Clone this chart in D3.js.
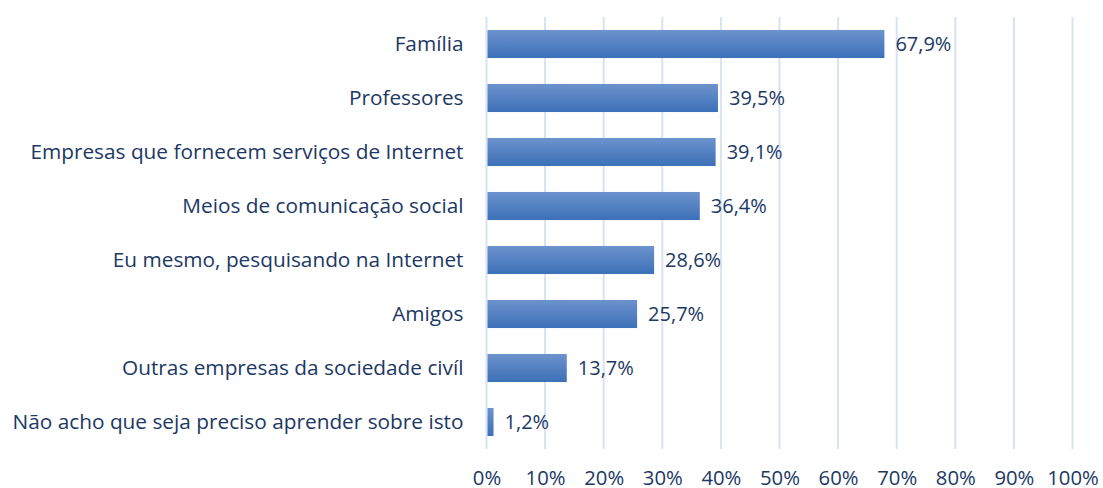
<!DOCTYPE html>
<html>
<head>
<meta charset="utf-8">
<script src="https://cdn.jsdelivr.net/npm/d3@7"></script>
<style>
  body { margin: 0; background: #fff; }
  text { font-family: "Open Sans", Lato, sans-serif; fill: #203864; }
</style>
</head>
<body>
<svg id="chart"></svg>
<script>
/* data */
const categories = [
  "Família",
  "Professores",
  "Empresas que fornecem serviços de Internet",
  "Meios de comunicação social",
  "Eu mesmo, pesquisando na Internet",
  "Amigos",
  "Outras empresas da sociedade civíl",
  "Não acho que seja preciso aprender sobre isto"
];
const values = [67.9, 39.5, 39.1, 36.4, 28.6, 25.7, 13.7, 1.2];
const ticks = [0, 10, 20, 30, 40, 50, 60, 70, 80, 90, 100];

const width = 1103, height = 488;
const margin = {left: 486.5, right: 30.5, top: 17, bottom: 39};

const svg = d3.select("#chart")
  .attr("width", width)
  .attr("height", height);

/* gradient like the office bar fill */
const grad = svg.append("defs").append("linearGradient")
  .attr("id", "barFill")
  .attr("x1", 0).attr("y1", 0).attr("x2", 0).attr("y2", 1);
grad.append("stop").attr("offset", "0%").attr("stop-color", "#6C93CD");
grad.append("stop").attr("offset", "100%").attr("stop-color", "#3C70B7");

const x = d3.scaleLinear()
  .domain([0, 100])
  .range([margin.left, width - margin.right]);

const y = d3.scaleBand()
  .domain(categories)
  .range([margin.top, height - margin.bottom])
  .paddingInner(0.48)
  .paddingOuter(0.24);

/* vertical gridlines */
svg.append("g")
  .selectAll("line")
  .data(ticks)
  .join("line")
  .attr("x1", d => x(d)).attr("x2", d => x(d))
  .attr("y1", margin.top).attr("y2", height - margin.bottom)
  .attr("stroke", "#D9E2F3")
  .attr("stroke-width", 2);

/* bars */
svg.append("g")
  .selectAll("rect")
  .data(values)
  .join("rect")
  .attr("x", x(0) + 1)
  .attr("y", (d, i) => y(categories[i]))
  .attr("width", d => x(d) - x(0) - 1)
  .attr("height", y.bandwidth())
  .attr("fill", "url(#barFill)");

/* value labels */
const fmt = d => d.toFixed(1).replace(".", ",") + "%";
svg.append("g")
  .selectAll("text")
  .data(values)
  .join("text")
  .attr("x", d => x(d) + 11)
  .attr("y", (d, i) => y(categories[i]) + y.bandwidth() / 2)
  .attr("dy", "0.34em")
  .style("font-size", "20px")
  .text(fmt);

/* category axis */
const yAxis = d3.axisLeft(y).tickSize(0).tickPadding(23);
svg.append("g")
  .attr("transform", `translate(${x(0)},0)`)
  .call(yAxis)
  .call(g => g.select(".domain").remove())
  .selectAll("text")
  .style("font-size", "20.8px")
  .attr("fill", "#203864");

/* percentage axis */
const xAxis = d3.axisBottom(x).tickValues(ticks).tickSize(0).tickPadding(22)
  .tickFormat(d => d + "%");
svg.append("g")
  .attr("transform", `translate(0,${height - margin.bottom})`)
  .call(xAxis)
  .call(g => g.select(".domain").remove())
  .selectAll("text")
  .style("font-size", "20.3px")
  .attr("fill", "#203864");
</script>
</body>
</html>
